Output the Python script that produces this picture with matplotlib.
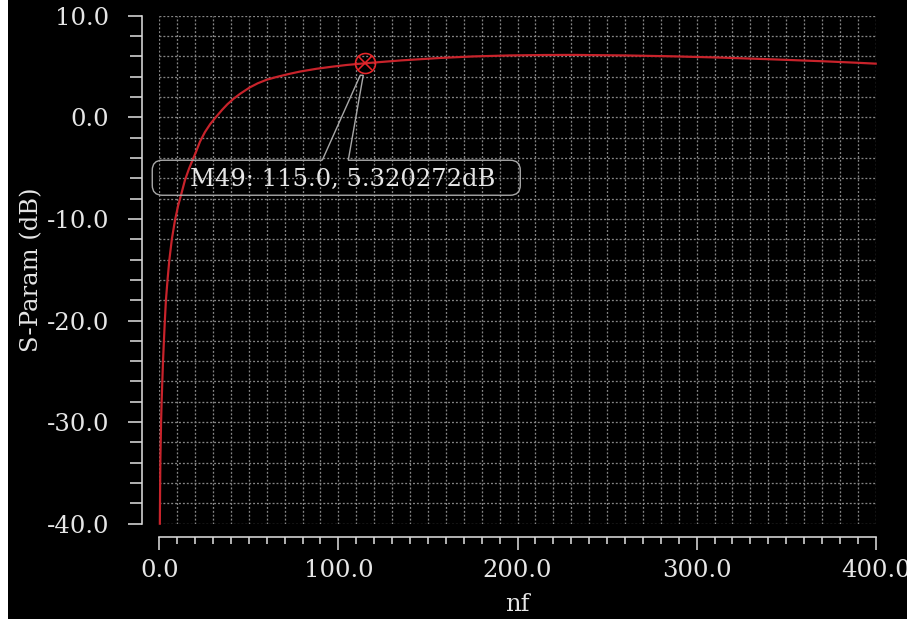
import matplotlib
matplotlib.use("Agg")
import matplotlib.pyplot as plt
import matplotlib.transforms as mtransforms
from matplotlib.path import Path
from matplotlib.patches import PathPatch, Rectangle
from matplotlib.ticker import MultipleLocator, FormatStrFormatter

# ---- data ----
freq = [0.3, 0.45, 0.6, 1.0, 1.3, 1.7, 2.1, 2.6, 3.1, 3.7, 4.6, 5.6, 7.0, 8.8,
        10.5, 12.5, 14.3, 16.5, 18.6, 20.5, 22.7, 25.5, 28.5, 31.5, 35.0, 38.0,
        41.3, 45.0, 50.6, 55.0, 60.0, 65.5, 72.0, 78.5, 87.9, 96.0, 104.6, 115.0,
        135.0, 156.8, 175.0, 195.9, 215.0, 231.2, 260.0, 287.0, 315.0, 342.9,
        370.0, 389.4, 400.0]
gain_db = [-40.0, -36.5, -33.7, -29.9, -28.0, -25.9, -23.9, -21.9, -20.0, -18.0,
           -16.0, -14.05, -12.0, -10.1, -8.7, -7.4, -6.2, -5.1, -4.2, -3.4,
           -2.4, -1.45, -0.65, 0.0, 0.72, 1.28, 1.8, 2.3, 2.95, 3.35, 3.7, 3.97,
           4.25, 4.5, 4.78, 4.97, 5.15, 5.32, 5.6, 5.84, 5.99, 6.09, 6.13, 6.14,
           6.09, 6.0, 5.87, 5.7, 5.52, 5.37, 5.28]
marker_name = "M49"
marker_x = 115.0
marker_y = 5.320272
x_ticks = [0.0, 100.0, 200.0, 300.0, 400.0]
y_ticks = [-40.0, -30.0, -20.0, -10.0, 0.0, 10.0]

W, H, DPI = 907, 619, 100
fig = plt.figure(figsize=(W / DPI, H / DPI), dpi=DPI, facecolor="white")
fig.patches.append(Rectangle((8 / W, 0), 1 - 8 / W, 1, transform=fig.transFigure,
                             facecolor="black", edgecolor="none", zorder=-10))

left, right = 159.3 / W, 875.7 / W
top, bottom = 1 - 15.7 / H, 1 - 523.7 / H
ax = fig.add_axes([left, bottom, right - left, top - bottom])
ax.set_facecolor("black")

FONT = "DejaVu Serif"
FS = 17.5
TXT = "#e6e6e6"
AXC = "#d8d8d8"
px = 72.0 / DPI  # points per pixel

ax.set_xlim(0, 400)
ax.set_ylim(-40, 10)
ax.set_xticks(x_ticks)
ax.set_yticks(y_ticks)
ax.xaxis.set_minor_locator(MultipleLocator(10))
ax.yaxis.set_minor_locator(MultipleLocator(2))
ax.xaxis.set_major_formatter(FormatStrFormatter("%.1f"))
ax.yaxis.set_major_formatter(FormatStrFormatter("%.1f"))

for s in ["top", "right"]:
    ax.spines[s].set_visible(False)
ax.spines["left"].set_position(("outward", 17.6 * px))
ax.spines["bottom"].set_position(("outward", 13.6 * px))
for s in ["left", "bottom"]:
    ax.spines[s].set_color(AXC)
    ax.spines[s].set_linewidth(1.6 * px)

ax.tick_params(axis="y", which="major", length=14 * px, width=1.6 * px, color=AXC,
               pad=13.5, labelsize=FS, labelcolor=TXT)
ax.tick_params(axis="y", which="minor", length=11.7 * px, width=1.6 * px, color=AXC)
ax.tick_params(axis="x", which="major", length=13.4 * px, width=1.6 * px, color=AXC,
               pad=6, labelsize=FS, labelcolor=TXT)
ax.tick_params(axis="x", which="minor", length=7 * px, width=1.6 * px, color=AXC)
for lab in ax.get_xticklabels() + ax.get_yticklabels():
    lab.set_fontfamily(FONT)

ax.grid(which="both", color="#858585", linestyle=(0, (1.5, 1.5)), linewidth=1.3 * px)
ax.set_axisbelow(True)

ax.set_xlabel("nf", fontsize=FS, color=TXT, family=FONT, labelpad=8)
ax.set_ylabel("S-Param (dB)", fontsize=FS, color=TXT, family=FONT, labelpad=2)

ax.plot(freq, gain_db, color="#c8232b", linewidth=2.2 * px, zorder=3,
        clip_on=False)

# marker
ax.plot([marker_x], [marker_y], marker="o", markersize=20 * px, markerfacecolor="none",
        markeredgecolor="#e8262a", markeredgewidth=1.6 * px, zorder=5)
ax.plot([marker_x], [marker_y], marker="x", markersize=14 * px,
        markeredgecolor="#e8262a", markeredgewidth=1.6 * px, zorder=5)

# callout (pixel offsets relative to the marker)
t = mtransforms.ScaledTranslation(marker_x, marker_y, ax.transData)
L, R, T, B, r = -213, 155, -97, -132, 10
verts = [(-43, T), (-5, -12), (-2, -12), (-17, T), (R - r, T), (R, T), (R, T - r),
         (R, B + r), (R, B), (R - r, B), (L + r, B), (L, B), (L, B + r),
         (L, T - r), (L, T), (L + r, T), (-43, T)]
codes = [Path.MOVETO, Path.LINETO, Path.LINETO, Path.LINETO, Path.LINETO,
         Path.CURVE3, Path.CURVE3, Path.LINETO, Path.CURVE3, Path.CURVE3,
         Path.LINETO, Path.CURVE3, Path.CURVE3, Path.LINETO, Path.CURVE3,
         Path.CURVE3, Path.LINETO]
patch = PathPatch(Path(verts, codes), transform=t, facecolor="none",
                  edgecolor="#a8a8a8", linewidth=1.4 * px, zorder=4, clip_on=False)
ax.add_patch(patch)
ax.text(-175, -116, f"{marker_name}: {marker_x:.1f}, {marker_y:.6f}dB", transform=t,
        fontsize=FS, family=FONT, color=TXT, ha="left", va="center", zorder=6)

fig.savefig("out.png", dpi=DPI, facecolor=fig.get_facecolor())
